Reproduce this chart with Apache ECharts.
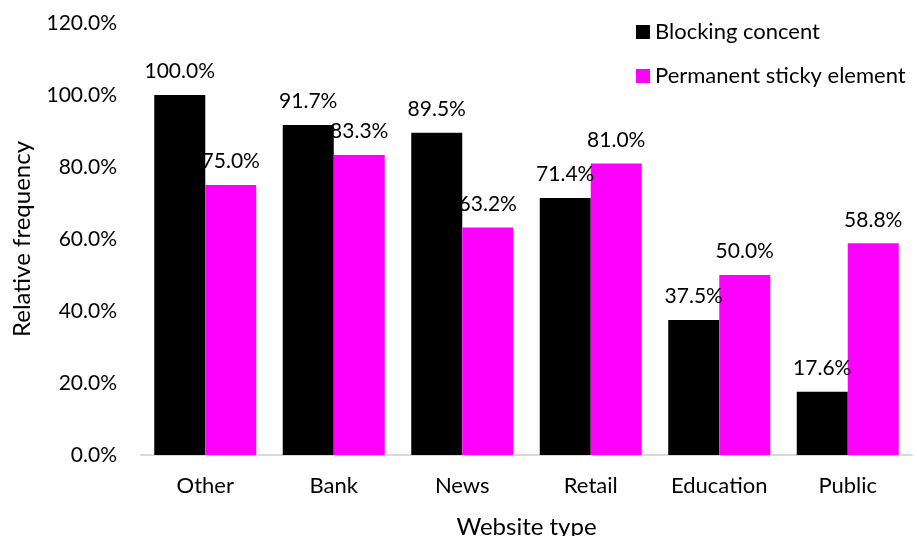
<!DOCTYPE html>
<html>
<head>
<meta charset="utf-8">
<script src="https://cdn.jsdelivr.net/npm/echarts@6/dist/echarts.min.js"></script>
<style>
  html, body { margin: 0; padding: 0; background: #fff; }
  #chart { width: 917px; height: 536px; }
</style>
</head>
<body>
<div id="chart"></div>
<script>
// Share of websites per type showing each overlay pattern (percent)
var categories = ['Other', 'Bank', 'News', 'Retail', 'Education', 'Public'];
var seriesNames = ['Blocking concent', 'Permanent sticky element'];
var blockingConsent = [100.0, 91.7, 89.5, 71.4, 37.5, 17.6];
var stickyElement = [75.0, 83.3, 63.2, 81.0, 50.0, 58.8];
var yTicks = { min: 0, max: 120, interval: 20 };

var FONT = 'Lato';
var chart = echarts.init(document.getElementById('chart'), null, { renderer: 'canvas' });

function pct(v) { return v.toFixed(1) + '%'; }

function barLabel() {
  return {
    show: true, position: 'top', distance: 13,
    fontFamily: FONT, fontSize: 21, color: '#000',
    formatter: function (p) { return pct(p.value); }
  };
}

chart.setOption({
  animation: false,
  backgroundColor: '#ffffff',
  textStyle: { fontFamily: FONT, color: '#000' },
  // fixed plot rectangle; axis names may sit at the very edge of the canvas
  grid: { left: 141, right: 5, top: 23, bottom: 81, containLabel: false, outerBoundsMode: 'none' },
  legend: {
    orient: 'vertical',
    left: 636,
    top: 21,
    padding: 0,
    itemWidth: 14,
    itemHeight: 14,
    itemGap: 22,
    icon: 'rect',
    textStyle: { fontFamily: FONT, fontSize: 22, lineHeight: 22, color: '#000' },
    data: seriesNames
  },
  xAxis: {
    type: 'category',
    data: categories,
    name: 'Website type',
    nameLocation: 'middle',
    nameGap: 60,
    nameTextStyle: { fontFamily: FONT, fontSize: 24, color: '#000' },
    axisLine: { show: true, lineStyle: { color: '#d9d9d9', width: 2 } },
    axisTick: { show: false },
    axisLabel: { fontFamily: FONT, fontSize: 22, color: '#000', margin: 20 }
  },
  yAxis: {
    type: 'value',
    min: yTicks.min,
    max: yTicks.max,
    interval: yTicks.interval,
    name: 'Relative frequency',
    nameLocation: 'middle',
    nameGap: 107,
    nameTextStyle: { fontFamily: FONT, fontSize: 24, color: '#000' },
    axisLine: { show: false },
    axisTick: { show: false },
    splitLine: { show: false },
    axisLabel: { fontFamily: FONT, fontSize: 21, color: '#000', margin: 24, formatter: function (v) { return pct(v); } }
  },
  series: [
    {
      name: seriesNames[0],
      type: 'bar',
      data: blockingConsent,
      barWidth: 51,
      barGap: '0%',
      itemStyle: { color: '#000000' },
      label: barLabel()
    },
    {
      name: seriesNames[1],
      type: 'bar',
      data: stickyElement,
      barWidth: 51,
      barGap: '0%',
      itemStyle: { color: '#ff00ff' },
      label: barLabel()
    }
  ]
});
</script>
</body>
</html>
